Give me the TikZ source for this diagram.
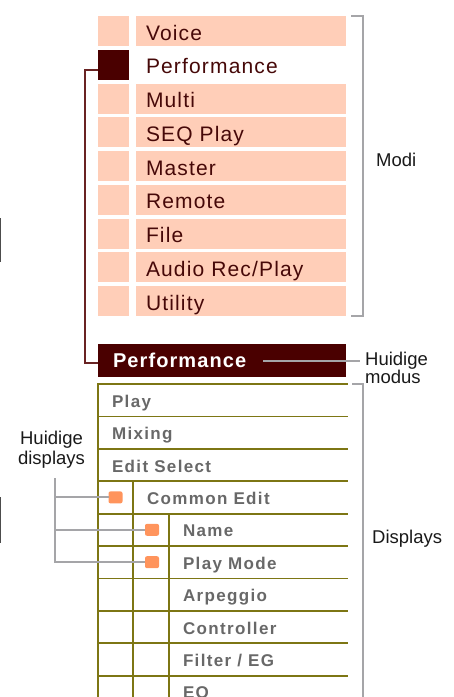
\documentclass[tikz,border=0pt]{standalone}
\usepackage{fontspec}
\setmainfont{Liberation Sans}
\newfontfamily\modefont[LetterSpace=5.5]{Liberation Sans}
\newfontfamily\dispfont[LetterSpace=8]{Liberation Sans}
\usepackage{tikz}
\usetikzlibrary{positioning}
\definecolor{ModeRed}{RGB}{74,0,0}
\definecolor{ModeText}{RGB}{70,8,8}
\definecolor{ModeSalmon}{RGB}{255,206,184}
\definecolor{CurLine}{RGB}{105,35,35}
\definecolor{DispOlive}{RGB}{125,118,20}
\definecolor{DispGray}{RGB}{104,104,104}
\definecolor{DotOrange}{RGB}{255,148,92}
\definecolor{BracketGray}{RGB}{165,165,168}

\begin{document}
\begin{tikzpicture}[x=1pt, y=-1pt]
  \tikzset{ModeSqStyle/.style = {shape          = rectangle,
                                 fill           = ModeSalmon,
                                 inner sep      = 0pt,
                                 outer sep      = 0pt,
                                 minimum width  = 31pt,
                                 minimum height = 30pt}}
  \tikzset{CurSqStyle/.style = {ModeSqStyle, fill = ModeRed}}
  \tikzset{ModeBarStyle/.style = {shape          = rectangle,
                                 fill           = ModeSalmon,
                                 text           = ModeText,
                                 font           = \modefont\fontsize{21}{24}\selectfont,
                                 text width     = 190pt, align = left,
                                 text height    = 20pt, text depth = 2pt,
                                 inner xsep     = 10pt, inner ysep = 0pt,
                                 outer sep      = 0pt,
                                 minimum height = 30pt}}
  \tikzset{CurBarStyle/.style = {ModeBarStyle, fill = none}}
  \tikzset{PerfStyle/.style = {shape          = rectangle,
                                 fill           = ModeRed,
                                 text           = white,
                                 font           = \modefont\bfseries\fontsize{20}{24}\selectfont,
                                 text width     = 218pt, align = left,
                                 text height    = 17pt, text depth = 4pt,
                                 inner xsep     = 15pt, inner ysep = 0pt,
                                 outer sep      = 0pt,
                                 minimum height = 33pt}}
  \tikzset{DispStyle/.style = {shape          = rectangle,
                                 anchor         = west,
                                 text           = DispGray,
                                 font           = \dispfont\bfseries\fontsize{17}{20}\selectfont,
                                 text height    = 17pt, text depth = 3pt,
                                 inner xsep     = 14pt, inner ysep = 0pt,
                                 outer sep      = 0pt,
                                 minimum height = 32.4pt}}
  \tikzset{CurDotStyle/.style = {shape          = rectangle,
                                 fill           = DotOrange,
                                 rounded corners = 2pt,
                                 inner sep      = 0pt,
                                 outer sep      = 0pt,
                                 minimum width  = 14pt,
                                 minimum height = 12pt}}
  \tikzset{LabelStyle/.style = {text = black!90, inner sep = 2pt,
                                 font = \fontsize{18.5}{18}\selectfont}}
  \tikzset{BracketStyle/.style = {draw = BracketGray, line width = 2pt}}
  \tikzset{GrayLineStyle/.style = {draw = BracketGray, line width = 2pt}}
  \tikzset{CurLineStyle/.style = {draw = CurLine, line width = 1.8pt}}
  \tikzset{OliveLineStyle/.style = {draw = DispOlive, line width = 1.8pt, line cap = rect}}
  \useasboundingbox (0,0) rectangle (454,697);
	%%% MODI %%%
	\node[ModeSqStyle] (sqV) at (113.5,31) {};
	\node[ModeBarStyle, right=7pt of sqV] (mV) {Voice};
	\node[CurSqStyle, below=3.75pt of sqV] (sqP) {};
	\node[CurBarStyle, right=7pt of sqP] (mP) {Performance};
	\node[ModeSqStyle, below=3.75pt of sqP] (sqM) {};
	\node[ModeBarStyle, right=7pt of sqM] (mM) {Multi};
	\node[ModeSqStyle, below=3.75pt of sqM] (sqS) {};
	\node[ModeBarStyle, right=7pt of sqS] (mS) {SEQ Play};
	\node[ModeSqStyle, below=3.75pt of sqS] (sqMa) {};
	\node[ModeBarStyle, right=7pt of sqMa] (mMa) {Master};
	\node[ModeSqStyle, below=3.75pt of sqMa] (sqR) {};
	\node[ModeBarStyle, right=7pt of sqR] (mR) {Remote};
	\node[ModeSqStyle, below=3.75pt of sqR] (sqF) {};
	\node[ModeBarStyle, right=7pt of sqF] (mF) {File};
	\node[ModeSqStyle, below=3.75pt of sqF] (sqA) {};
	\node[ModeBarStyle, right=7pt of sqA] (mA) {Audio Rec/Play};
	\node[ModeSqStyle, below=3.75pt of sqA] (sqU) {};
	\node[ModeBarStyle, right=7pt of sqU] (mU) {Utility};
	%
	\draw[BracketStyle] ([xshift=5pt]mV.north east) -| ([xshift=17pt]mU.south east) to ([xshift=5pt]mU.south east);
	\node[LabelStyle, anchor=base west] (modi) at (374,166) {Modi};
	%%% HUIDIGE MODUS %%%
	\node[PerfStyle, anchor=north west] (pbar) at ([yshift=-28pt]sqU.south west) {Performance};
	\draw[CurLineStyle] ([yshift=-5.5pt]sqP.west) -| ([xshift=-13pt,yshift=-2.5pt]pbar.west) to ([yshift=-2.5pt]pbar.west);
	\node[LabelStyle, anchor=north west, align=left] (hmod) at (363,349.5) {Huidige\\modus};
	\coordinate (hmStart) at (263,361);
	\draw[GrayLineStyle] (hmStart) to ([xshift=-3pt]hmStart -| hmod.west);
	%%% DISPLAYS %%%
	\coordinate (rEnd) at (347,0);
	\coordinate (bEnd) at (0,705);
	\node[DispStyle] (dPl) at (98,400.2) {Play};
	\node[DispStyle, below=0pt of dPl.south west, anchor=north west] (dMi) {Mixing};
	\node[DispStyle, below=0pt of dMi.south west, anchor=north west] (dEd) {Edit Select};
	\node[DispStyle, anchor=north west] (dCo) at ([xshift=35pt]dEd.south west) {Common Edit};
	\node[DispStyle, anchor=north west] (dNa) at ([xshift=36pt]dCo.south west) {Name};
	\node[DispStyle, below=0pt of dNa.south west, anchor=north west] (dPm) {Play Mode};
	\node[DispStyle, below=0pt of dPm.south west, anchor=north west] (dAr) {Arpeggio};
	\node[DispStyle, below=0pt of dAr.south west, anchor=north west] (dCt) {Controller};
	\node[DispStyle, below=0pt of dCt.south west, anchor=north west] (dFi) {Filter / EG};
	\node[DispStyle, below=0pt of dFi.south west, anchor=north west] (dEq) {EQ};
	%
	\draw[OliveLineStyle] (dPl.north west) to (dPl.north west -| rEnd)
	                      (dMi.north west) to (dMi.north west -| rEnd)
	                      (dEd.north west) to (dEd.north west -| rEnd)
	                      (dCo.north -| dPl.west) to (dCo.north -| rEnd)
	                      (dNa.north -| dPl.west) to (dNa.north -| rEnd)
	                      (dPm.north -| dPl.west) to (dPm.north -| rEnd)
	                      (dAr.north -| dPl.west) to (dAr.north -| rEnd)
	                      (dCt.north -| dPl.west) to (dCt.north -| rEnd)
	                      (dFi.north -| dPl.west) to (dFi.north -| rEnd)
	                      (dEq.north -| dPl.west) to (dEq.north -| rEnd);
	\draw[OliveLineStyle] (dPl.north west) to (dPl.north west |- bEnd)
	                      (dCo.north west) to (dCo.north west |- bEnd)
	                      (dNa.north west) to (dNa.north west |- bEnd);
	%
	\coordinate (dTop) at (dPl.north -| rEnd);
	\draw[BracketStyle] ([xshift=5pt]dTop) to ([xshift=16pt]dTop) to ([xshift=16pt]dTop |- bEnd);
	\node[LabelStyle, anchor=base west] (disp) at (370,543) {Displays};
	%%% HUIDIGE DISPLAYS %%%
	\node[CurDotStyle, left=10.5pt of dCo.west] (dotCo) {};
	\node[CurDotStyle, left=10pt of dNa.west] (dotNa) {};
	\node[CurDotStyle, left=10pt of dPm.west] (dotPm) {};
	\node[LabelStyle, anchor=north, align=center, font=\fontsize{18.5}{20}\selectfont] (hdisp) at (51.5,429) {Huidige\\displays};
	\coordinate (hdTop) at (55,478);
	\draw[GrayLineStyle] (hdTop) |- (dotPm.west);
	\draw[GrayLineStyle] (hdTop |- dotCo.west) to (dotCo.west);
	\draw[GrayLineStyle] (hdTop |- dotNa.west) to (dotNa.west);
	%%% RAND %%%
	\draw[draw=black!70, line width=1.2pt] (0.6,218) to (0.6,262) (0.6,497) to (0.6,543);
\end{tikzpicture}
\end{document}
